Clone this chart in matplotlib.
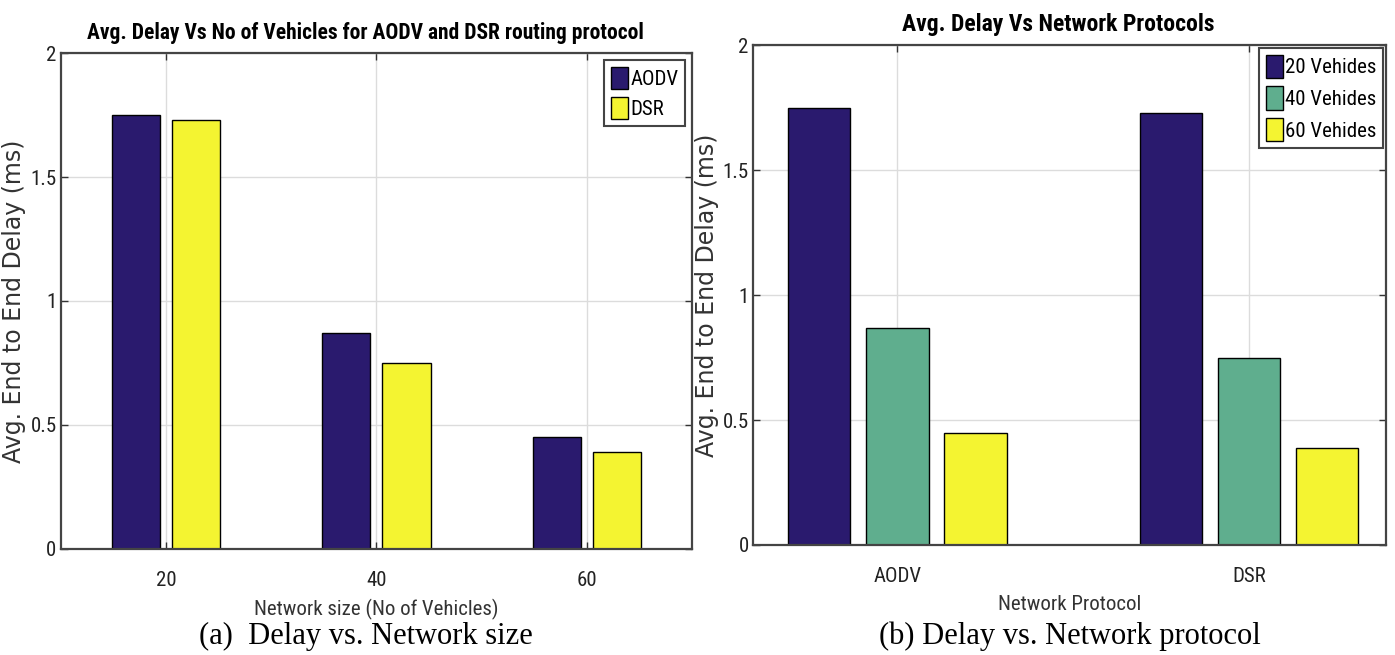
import matplotlib
matplotlib.use('Agg')
import matplotlib.pyplot as plt
from matplotlib import font_manager
import numpy as np

# data
sizes = [20, 40, 60]
aodv_delay = [1.75, 0.87, 0.45]
dsr_delay = [1.73, 0.75, 0.39]

protocols = ['AODV', 'DSR']
veh_labels = ['20 Vehides', '40 Vehides', '60 Vehides']
veh_delay = [[1.75, 1.73], [0.87, 0.75], [0.45, 0.39]]

navy = '#2a1a6e'
teal = '#5fae8e'
yellow = '#f4f431'

names = {f.name for f in font_manager.fontManager.ttflist}
narrow = 'Roboto Condensed' if 'Roboto Condensed' in names else 'DejaVu Sans'
wide = 'DejaVu Sans'
serif = 'Liberation Serif'
NARROW = dict(fontfamily=narrow, fontstretch='condensed')


def style_axes(ax):
    ax.set_ylim(0, 2)
    ax.set_yticks([0, 0.5, 1, 1.5, 2])
    ax.set_yticklabels(['0', '0.5', '1', '1.5', '2'], fontsize=15, color='#222222', **NARROW)
    ax.grid(True, color='#dcdcdc', linewidth=1)
    ax.set_axisbelow(True)
    ax.tick_params(axis='y', pad=3)
    ax.tick_params(axis='x', pad=16)
    ax.tick_params(direction='in', top=True, right=True, length=5, width=1, color='#333333')
    for s in ax.spines.values():
        s.set_color('#444444')
        s.set_linewidth(1.6)
    ax.set_ylabel('Avg. End to End Delay (ms)', fontfamily=wide, fontsize=17, color='#333333', labelpad=3)


def style_legend(leg):
    leg.get_frame().set_edgecolor('#444444')
    leg.get_frame().set_linewidth(1.5)


fig = plt.figure(figsize=(13.95, 6.55), dpi=100)

# (a) delay vs network size
ax1 = fig.add_axes([0.0435, 0.162, 0.4526, 0.757])
x = np.array(sizes, dtype=float)
w = 4.57
ax1.bar(x - 2.86, aodv_delay, w, color=navy, edgecolor='black', linewidth=1, label='AODV')
ax1.bar(x + 2.86, dsr_delay, w, color=yellow, edgecolor='black', linewidth=1, label='DSR')
ax1.set_xlim(10, 70)
ax1.set_xticks(sizes)
ax1.set_xticklabels([str(s) for s in sizes], fontsize=15, color='#222222', **NARROW)
style_axes(ax1)
ax1.set_xlabel('Network size (No of Vehicles)', fontsize=15, color='#333333', labelpad=6, **NARROW)
ax1.set_title('Avg. Delay Vs No of Vehicles for AODV and DSR routing protocol',
              fontsize=15.5, fontweight='bold', pad=10, **NARROW)
ax1.title.set_x(0.483)
leg1 = ax1.legend(loc='upper right', prop={'family': narrow, 'size': 15},
                  handlelength=0.85, handleheight=1.3, handletextpad=0.1, borderpad=0.3,
                  labelspacing=0.35, borderaxespad=0.35, fancybox=False, framealpha=1)
style_legend(leg1)

# (b) delay vs network protocol
ax2 = fig.add_axes([0.5398, 0.168, 0.4538, 0.763])
xp = np.arange(1, len(protocols) + 1)
bw = 0.178
for i, (lab, vals, c) in enumerate(zip(veh_labels, veh_delay, [navy, teal, yellow])):
    ax2.bar(xp + (i - 1) * 0.222, vals, bw, color=c, edgecolor='black', linewidth=1, label=lab)
ax2.set_xlim(0.59, 2.39)
ax2.set_xticks(xp)
ax2.set_xticklabels(protocols, fontsize=15, color='#222222', **NARROW)
style_axes(ax2)
ax2.set_xlabel('Network Protocol', fontsize=15, color='#333333', labelpad=6, **NARROW)
ax2.set_title('Avg. Delay Vs Network Protocols', fontsize=17, fontweight='bold', pad=10, **NARROW)
ax2.title.set_x(0.482)
leg2 = ax2.legend(loc='upper right', prop={'family': narrow, 'size': 15},
                  handlelength=0.85, handleheight=1.35, handletextpad=0.1, borderpad=0.3,
                  labelspacing=0.4, borderaxespad=0.15, fancybox=False, framealpha=1)
style_legend(leg2)

# captions under each panel
fig.text(0.262, 0.029, '(a)  Delay vs. Network size', fontfamily=serif, fontsize=22,
         ha='center', va='center')
fig.text(0.767, 0.029, '(b) Delay vs. Network protocol', fontfamily=serif, fontsize=22,
         ha='center', va='center')

fig.savefig('out.png', dpi=100)
